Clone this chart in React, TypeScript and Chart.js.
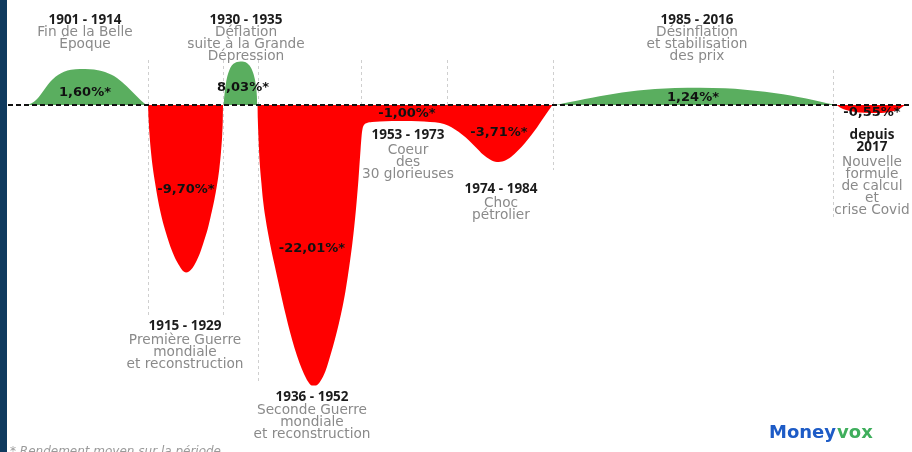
import React, { useEffect, useRef } from 'react';
import { Chart, registerables } from 'chart.js';

Chart.register(...registerables);

// ---- Data (illustrative profile of average real returns per period) ----
// Timeline position along the infographic and relative height of the curve
const profileX = [
  // 1901-1914
  28, 32, 36, 40, 44, 48, 53, 58, 64, 71, 80, 90, 98, 105, 111, 117, 122, 127, 132, 137, 141, 144.5, 147,
  // 1915-1929
  148, 148.6, 149.4, 150.8, 152.7, 155.1, 158, 161.6, 166, 170.5, 175, 179.5, 183, 186, 189, 192.5, 196, 200, 204, 207.7, 211, 214.3, 217, 219.3, 221, 222.2, 222.8, 223.1,
  // 1930-1935
  223.5, 224.2, 225.2, 226.5, 228.3, 230.5, 233.5, 237, 240.5, 244, 247.5, 250.5, 253, 254.8, 256.1, 256.9, 257.2,
  // 1936-1952
  257.5, 257.8, 258.3, 259, 260, 261.4, 263, 265.3, 268, 271.3, 275, 278.5, 282, 286, 290, 294.5, 299.5, 304, 308, 312, 316, 320.5, 325.5, 330.5, 335, 339, 342.5, 345.5, 348, 350.3, 352.4, 354.2, 355.8, 357.2, 358.5, 359.6, 360.6, 361.5, 362.5, 364, 367, 372,
  // 1953-1973
  380, 392, 405, 418, 430, 440,
  // 1974-1984
  448, 455, 462, 469, 476, 483, 490, 497, 504, 511, 518, 525, 531, 537, 542, 546.5, 550, 553,
  // 1985-2016
  555, 565, 578, 592, 607, 622, 638, 655, 675, 700, 725, 745, 765, 783, 798, 812, 823, 831, 835,
  // depuis 2017
  836, 840, 846, 854, 864, 876, 887, 895, 900, 903, 905,
];
const profileY = [
  0, 2, 5, 9.5, 15, 20.5, 26, 30, 33.3, 35.3, 36, 35.8, 34.8, 33, 30.5, 27, 23, 18.5, 13.5, 8.5, 4.5, 1.5, 0,
  0, -14, -28, -45, -62, -78, -95, -112, -128, -142, -153, -161, -166, -167.5, -166.5, -163, -157, -148, -136, -124, -110, -95, -80, -64, -47, -30, -15, 0,
  0, 8, 17, 25, 32, 37.5, 41.2, 43, 43.6, 43.2, 41.5, 38, 32.5, 26, 18, 9, 0,
  0, -14, -28, -45, -62, -78, -95, -112, -128, -145, -162, -178, -194, -211, -227, -243, -258, -269, -276.5, -280.5, -280.5, -276, -266, -250, -234, -218, -202, -186, -170, -154, -138, -122, -106, -90, -74, -58, -44, -32, -24, -20, -18, -17,
  -16.5, -16, -16, -16.3, -17, -18,
  -20.5, -24.5, -29.5, -35.5, -42.5, -49.5, -54.5, -57, -56, -52, -45.5, -38, -30.5, -22.5, -15, -8.5, -3.5, 0,
  0, 2, 4.5, 7.2, 10, 12.5, 14.5, 16, 17, 17.3, 16.7, 15.3, 13.3, 10.8, 8, 5.2, 2.8, 1, 0,
  0, -2.5, -5, -6.8, -7.8, -8, -7.4, -5.8, -3.5, -1.5, 0,
];

const periodYears = [
  ['1901 - 1914'],
  ['1915 - 1929'],
  ['1930 - 1935'],
  ['1936 - 1952'],
  ['1953 - 1973'],
  ['1974 - 1984'],
  ['1985 - 2016'],
  ['depuis', '2017'],
];
const periodNotes = [
  ['Fin de la Belle', 'Époque'],
  ['Première Guerre', 'mondiale', 'et reconstruction'],
  ['Déflation', 'suite à la Grande', 'Dépression'],
  ['Seconde Guerre', 'mondiale', 'et reconstruction'],
  ['Coeur', 'des', '30 glorieuses'],
  ['Choc', 'pétrolier'],
  ['Désinflation', 'et stabilisation', 'des prix'],
  ['Nouvelle', 'formule', 'de calcul', 'et', 'crise Covid'],
];
const periodRates = ['1,60%*', '-9,70%*', '8,03%*', '-22,01%*', '-1,00%*', '-3,71%*', '1,24%*', '-0,55%*'];
const footnote = '* Rendement moyen sur la période';
const brandParts = ['Money', 'vox'];

// ---- Layout (positions in the chart's own units) ----
const X_MIN = 0, X_MAX = 912, Y_MIN = -347, Y_MAX = 105;
const baselineFrom = 8, baselineTo = 912;
const titleAnchors = [
  [85, 85], [185, -221], [246, 85], [312, -292], [408, -30], [501, -84], [697, 85], [872, -30],
];
const noteGaps = [12, 14, 12, 13, 15, 14, 12, 15];
const rateAnchors = [
  [85, 12], [186, -85], [243, 17], [312, -144], [407, -9], [499, -28], [693, 7], [872, -8],
];
const dividers = [
  [148, 45, -210], [223, 45, -210], [258, 45, -278], [361, 45, -20],
  [447, 45, -20], [553, 45, -65], [833, 35, -112],
];

const GREEN = '#5aae5f';
const RED = '#ff0000';
const YEAR_COLOR = '#1c1c1c';
const NOTE_COLOR = '#8a8a8a';

const infographic = {
  id: 'infographic',
  beforeDatasetsDraw(chart: any) {
    const { ctx, scales } = chart;
    const xs = scales.x, ys = scales.y;
    ctx.save();
    ctx.strokeStyle = '#cfcfcf';
    ctx.lineWidth = 1;
    ctx.setLineDash([3, 3]);
    dividers.forEach(([x, top, bottom]) => {
      const px = Math.round(xs.getPixelForValue(x)) + 0.5;
      ctx.beginPath();
      ctx.moveTo(px, ys.getPixelForValue(top));
      ctx.lineTo(px, ys.getPixelForValue(bottom));
      ctx.stroke();
    });
    ctx.restore();
  },
  afterDatasetsDraw(chart: any) {
    const { ctx, scales } = chart;
    const xs = scales.x, ys = scales.y;
    ctx.save();
    ctx.textAlign = 'center';
    ctx.textBaseline = 'middle';
    const lh = 12;
    periodYears.forEach((lines, i) => {
      const [ax, ay] = titleAnchors[i];
      const cx = xs.getPixelForValue(ax);
      let cy = ys.getPixelForValue(ay);
      ctx.font = 'bold 13.5px "Open Sans"';
      ctx.fillStyle = YEAR_COLOR;
      lines.forEach((t, k) => ctx.fillText(t, cx, cy + k * lh));
      cy += (lines.length - 1) * lh + noteGaps[i];
      ctx.font = '13.7px "DejaVu Sans"';
      ctx.fillStyle = NOTE_COLOR;
      periodNotes[i].forEach((t, k) => ctx.fillText(t, cx, cy + k * lh));
    });
    ctx.font = 'bold 13px "DejaVu Sans"';
    ctx.fillStyle = '#111';
    periodRates.forEach((t, i) => {
      const [ax, ay] = rateAnchors[i];
      ctx.fillText(t, xs.getPixelForValue(ax), ys.getPixelForValue(ay));
    });
    // footnote
    ctx.textAlign = 'left';
    ctx.textBaseline = 'alphabetic';
    ctx.font = 'italic 12px "DejaVu Sans"';
    ctx.fillStyle = '#9a9a9a';
    ctx.fillText(footnote, 10, chart.height + 3);
    // brand
    ctx.font = 'bold 18px "DejaVu Sans"';
    ctx.textBaseline = 'middle';
    const w1 = ctx.measureText(brandParts[0]).width;
    const bx = 769, by = 433;
    ctx.fillStyle = '#1d5bc6';
    ctx.fillText(brandParts[0], bx, by);
    ctx.fillStyle = '#3fae5c';
    ctx.fillText(brandParts[1], bx + w1 + 1, by);
    ctx.restore();
  },
};

export default function App() {
  const ref = useRef<HTMLCanvasElement>(null);
  useEffect(() => {
    const chart = new Chart(ref.current as HTMLCanvasElement, {
      type: 'line',
      data: {
        datasets: [
          {
            data: profileX.map((x, i) => ({ x, y: profileY[i] })),
            fill: { target: 'origin', above: GREEN, below: RED },
            borderWidth: 0,
            borderColor: 'rgba(0,0,0,0)',
            backgroundColor: GREEN,
            pointRadius: 0,
            cubicInterpolationMode: 'monotone',
            order: 2,
          },
          {
            data: [{ x: baselineFrom, y: 0 }, { x: baselineTo, y: 0 }],
            borderColor: '#111',
            borderWidth: 2,
            borderDash: [5, 3],
            pointRadius: 0,
            fill: false,
            order: 1,
          },
        ],
      } as any,
      options: {
        animation: false,
        responsive: false,
        maintainAspectRatio: false,
        events: [],
        layout: { padding: 0 },
        scales: {
          x: { type: 'linear', min: X_MIN, max: X_MAX, display: false },
          y: { type: 'linear', min: Y_MIN, max: Y_MAX, display: false },
        },
        plugins: { legend: { display: false }, tooltip: { enabled: false } },
      } as any,
      plugins: [infographic],
    });
    return () => chart.destroy();
  }, []);
  return (
    <div style={{ position: 'fixed', left: 0, top: 0, width: 912, height: 452, background: '#fff', overflow: 'hidden' }}>
      <canvas ref={ref} width={912} height={452} style={{ position: 'absolute', left: 0, top: 0 }} />
      <div style={{ position: 'absolute', left: 0, top: 0, width: 7, height: 452, background: '#0f3a5e' }} />
    </div>
  );
}
